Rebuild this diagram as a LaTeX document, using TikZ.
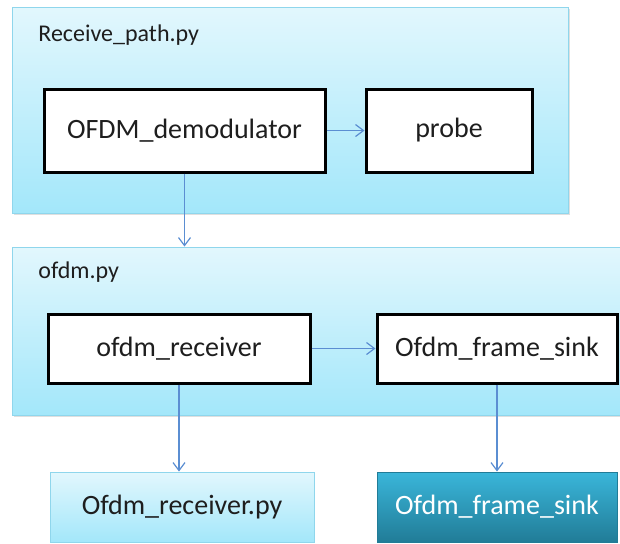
\documentclass[tikz,border=0pt]{standalone}
\usepackage{fontspec}
\setmainfont{Carlito}
\usetikzlibrary{arrows.meta, shadows}

\definecolor{paletop}{HTML}{E2F7FD}
\definecolor{palebot}{HTML}{A3E7FA}
\definecolor{paleedge}{HTML}{8FD6EC}
\definecolor{darktop}{HTML}{3AB6DA}
\definecolor{darkbot}{HTML}{217C97}
\definecolor{flowblue}{HTML}{5B8ED2}
\definecolor{inktext}{HTML}{1E1E1E}

\tikzset{
  outerbox/.style={rectangle, draw=paleedge, line width=0.5pt,
    top color=paletop, bottom color=palebot,
    drop shadow={opacity=0.25, shadow xshift=0.8pt, shadow yshift=-0.8pt}},
  blockbox/.style={rectangle, draw=black, line width=1.5pt, fill=white,
    font=\fontsize{14}{16}\selectfont, text=inktext},
  filebox/.style={rectangle, draw=paleedge, line width=0.5pt,
    top color=paletop, bottom color=palebot,
    font=\fontsize{14}{16}\selectfont, text=inktext},
  sinkbox/.style={rectangle, draw=darkbot, line width=0.5pt,
    top color=darktop, bottom color=darkbot,
    font=\fontsize{14}{16}\selectfont, text=white},
  boxlabel/.style={anchor=west, inner sep=0pt,
    font=\fontsize{12}{14}\selectfont, text=inktext},
  flow/.style={draw=flowblue, line width=0.6pt,
    -{Straight Barb[length=4pt, width=6pt]}}
}

\begin{document}
\begin{tikzpicture}[x=0.5pt, y=-0.5pt]
  \useasboundingbox (0,0) rectangle (620,543);

  % Receive_path.py
  \node[outerbox, minimum width=278pt, minimum height=103pt] (rxpath) at (290,110) {};
  \node[boxlabel] (rxpathlbl) at (38,35) {Receive\_path.py};
  \node[blockbox, minimum width=140.5pt, minimum height=41.5pt] (demod) at (184.5,130.5) {OFDM\_demodulator};
  \node[blockbox, minimum width=83pt, minimum height=41.5pt] (probe) at (449,130.5) {probe};

  % ofdm.py
  \node[outerbox, minimum width=304pt, minimum height=84pt] (ofdmpy) at (316,331) {};
  \node[boxlabel] (ofdmpylbl) at (38,272) {ofdm.py};
  \node[blockbox, minimum width=131pt, minimum height=34.5pt] (rcv) at (179,348.5) {ofdm\_receiver};
  \node[blockbox, minimum width=120pt, minimum height=34.5pt] (sink) at (497,348.5) {Ofdm\_frame\_sink};

  % Dateien darunter
  \node[filebox, minimum width=132pt, minimum height=35pt] (rcvpy) at (182,507) {Ofdm\_receiver.py};
  \node[sinkbox, minimum width=120pt, minimum height=35pt] (sinkpy) at (497,507) {Ofdm\_frame\_sink};

  % Verbindungen
  \draw[flow] (demod.east) -- (probe.west);
  \draw[flow] (demod.south) -- (demod.south |- ofdmpy.north);
  \draw[flow] (rcv.east) -- (sink.west);
  \draw[flow] (rcv.south) -- (rcv.south |- rcvpy.north);
  \draw[flow] (sink.south) -- (sink.south |- sinkpy.north);
\end{tikzpicture}
\end{document}
